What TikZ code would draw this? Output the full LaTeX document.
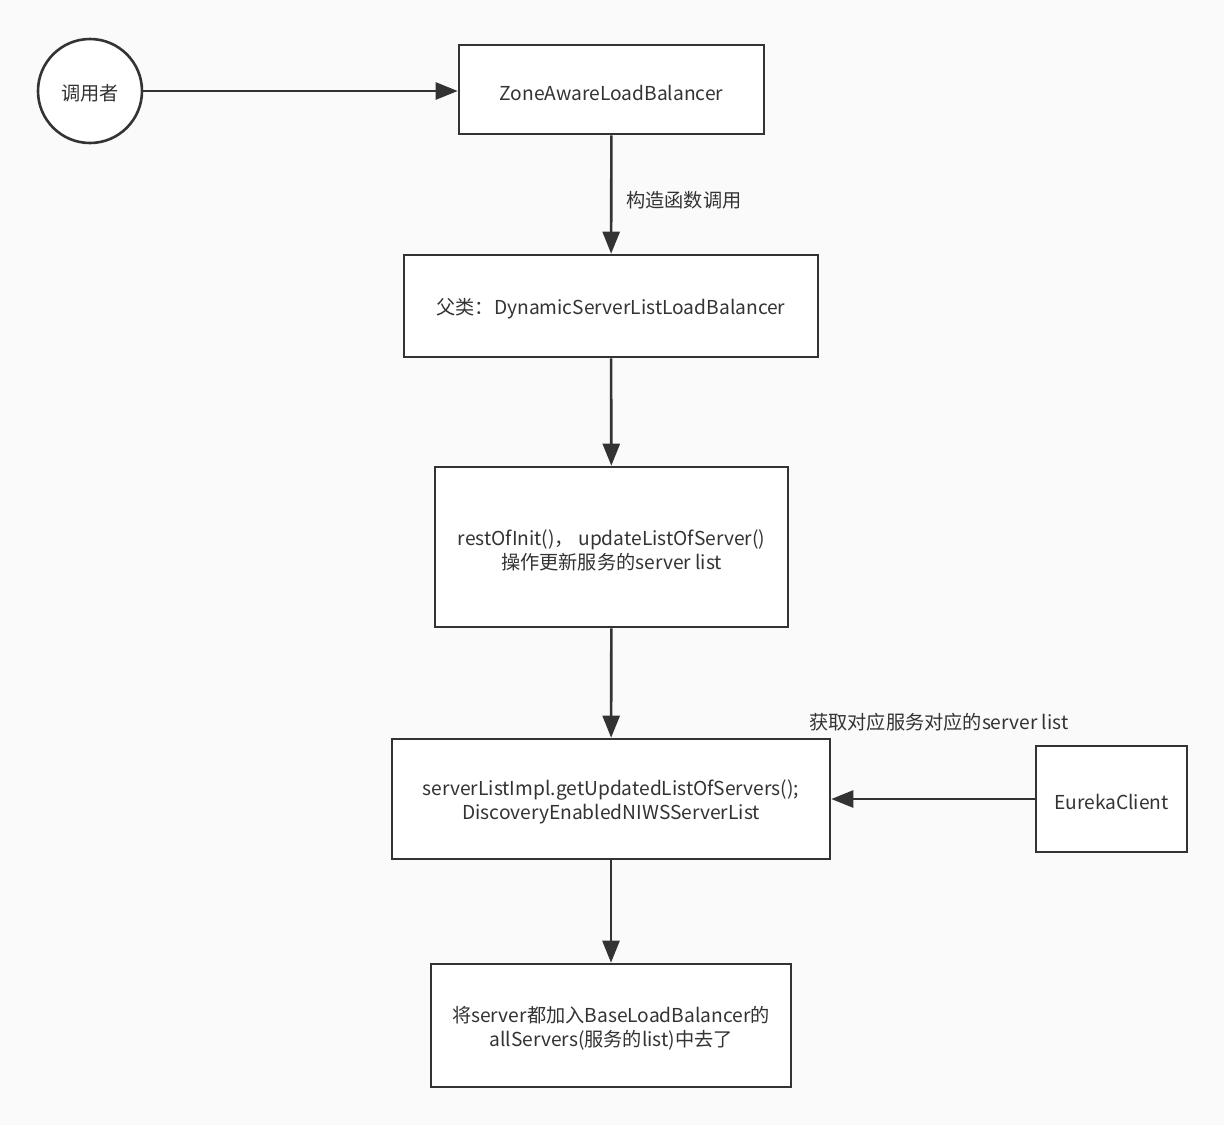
\documentclass[tikz,border=0pt]{standalone}
\usepackage{fontspec}
\setmainfont{Noto Sans CJK SC}
\usetikzlibrary{arrows.meta}
\definecolor{bg}{HTML}{FAFAFA}
\definecolor{ln}{HTML}{333333}
\definecolor{tx}{HTML}{333333}
\begin{document}
\begin{tikzpicture}[x=1pt,y=-1pt,
  box/.style={draw=ln,line width=2.6pt,fill=white,inner sep=0pt},
  txt/.style={text=tx,font=\fontsize{19.2}{24}\selectfont,inner sep=0pt,align=center,yshift=-3pt},
  arr/.style={draw=ln,line width=2.6pt,-{Triangle[length=22pt,width=17pt]}},
  lbl/.style={text=tx,font=\fontsize{19.2}{24}\selectfont,inner sep=0pt}]
\fill[bg] (0,0) rectangle (1224,1125);
\useasboundingbox (0,0) rectangle (1224,1125);
\node[box,circle,minimum size=104pt,label={[txt,yshift=1pt]center:调用者}] (caller) at (90,91) {};
\node[box,minimum width=305pt,minimum height=89pt,label={[txt]center:ZoneAwareLoadBalancer}] (zone) at (611.5,89.5) {};
\node[box,minimum width=414pt,minimum height=102pt,label={[txt]center:父类：DynamicServerListLoadBalancer}] (parent) at (611,306) {};
\node[box,minimum width=353pt,minimum height=160pt,label={[txt]center:{restOfInit()，\ updateListOfServer()\\操作更新服务的server list}}] (rest) at (611.5,547) {};
\node[box,minimum width=438pt,minimum height=120pt,label={[txt]center:{serverListImpl.getUpdatedListOfServers();\\DiscoveryEnabledNIWSServerList}}] (impl) at (611,799) {};
\node[box,minimum width=151pt,minimum height=106pt,label={[txt]center:EurekaClient}] (eureka) at (1111.5,799) {};
\node[box,minimum width=360pt,minimum height=123pt,label={[txt]center:{将server都加入BaseLoadBalancer的\\allServers(服务的list)中去了}}] (base) at (611,1025.5) {};
\draw[arr] (caller) -- (caller.east -| zone.west);
\draw[arr] (zone) -- (parent);
\draw[arr] (parent) -- (rest);
\draw[arr] (rest) -- (impl);
\draw[arr] (impl) -- (base);
\draw[arr] (eureka) -- (impl);
\node[lbl,anchor=west] (l1) at (626,200) {构造函数调用};
\node[lbl,anchor=west] (l2) at (809,722) {获取对应服务对应的server list};
\end{tikzpicture}
\end{document}
